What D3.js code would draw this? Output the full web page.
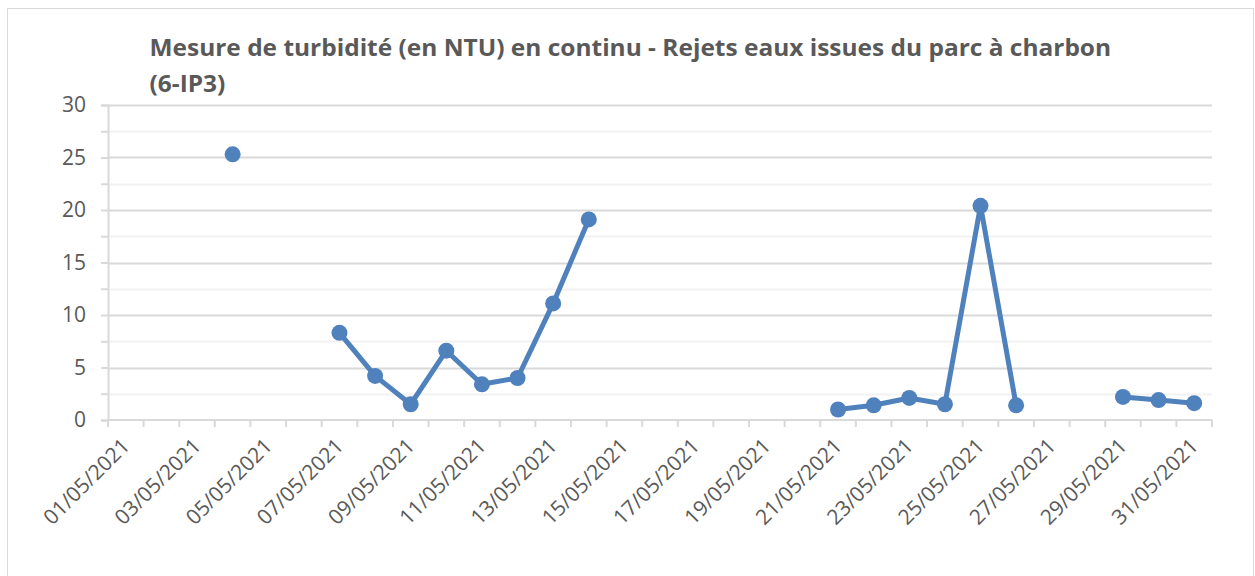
<!DOCTYPE html>
<html>
<head>
<meta charset="utf-8">
<script src="https://cdn.jsdelivr.net/npm/d3@7"></script>
<style>
  body { margin: 0; background: #fff; }
  text { font-family: "Open Sans", "Liberation Sans", sans-serif; fill: #595959; }
</style>
</head>
<body>
<svg id="chart" width="1255" height="576"></svg>
<script>
// dates (one category per day) and measured turbidity, null = no measure
var days = ["01/05/2021", "02/05/2021", "03/05/2021", "04/05/2021", "05/05/2021", "06/05/2021",
    "07/05/2021", "08/05/2021", "09/05/2021", "10/05/2021", "11/05/2021", "12/05/2021",
    "13/05/2021", "14/05/2021", "15/05/2021", "16/05/2021", "17/05/2021", "18/05/2021",
    "19/05/2021", "20/05/2021", "21/05/2021", "22/05/2021", "23/05/2021", "24/05/2021",
    "25/05/2021", "26/05/2021", "27/05/2021", "28/05/2021", "29/05/2021", "30/05/2021",
    "31/05/2021"];
var turbidity = [null, null, null, 25.3, null, null,
    8.3, 4.2, 1.5, 6.6, 3.4, 4.0,
    11.1, 19.1, null, null, null, null,
    null, null, 1.0, 1.4, 2.1, 1.5,
    20.4, 1.4, null, null, 2.2, 1.9,
    1.6];
var yTicks = [0, 5, 10, 15, 20, 25, 30];
var yMinor = [2.5, 7.5, 12.5, 17.5, 22.5, 27.5];
var titleLines = ["Mesure de turbidité (en NTU) en continu - Rejets eaux issues du parc à charbon", "(6-IP3)"];

var svg = d3.select("#chart"),
    margin = { top: 105, right: 43, bottom: 156, left: 108 },
    width = +svg.attr("width") - margin.left - margin.right,
    height = +svg.attr("height") - margin.top - margin.bottom;

var data = days.map(function (d, i) { return { day: d, value: turbidity[i] }; });

// chart frame
svg.append("rect")
    .attr("x", 7.5).attr("y", 8.5)
    .attr("width", 1246).attr("height", 600)
    .attr("fill", "#fff")
    .attr("stroke", "#d9d9d9")
    .attr("stroke-width", 1);

var g = svg.append("g").attr("transform", "translate(" + margin.left + "," + margin.top + ")");

var x = d3.scaleBand().domain(days).range([0, width]).padding(0);
var y = d3.scaleLinear().domain([0, 30]).range([height, 0]);

// minor gridlines
g.selectAll(".minor")
    .data(yMinor)
    .enter().append("line")
    .attr("x1", 0).attr("x2", width)
    .attr("y1", function (d) { return Math.round(y(d)) + 0.5; })
    .attr("y2", function (d) { return Math.round(y(d)) + 0.5; })
    .attr("stroke", "#f2f2f2")
    .attr("stroke-width", 2);

// major gridlines
g.selectAll(".major")
    .data(yTicks.slice(1))
    .enter().append("line")
    .attr("x1", 0).attr("x2", width)
    .attr("y1", function (d) { return Math.round(y(d)) + 0.5; })
    .attr("y2", function (d) { return Math.round(y(d)) + 0.5; })
    .attr("stroke", "#d9d9d9")
    .attr("stroke-width", 2);

// Y axis
var yAxis = g.append("g")
    .call(d3.axisLeft(y).tickValues(yTicks.concat(yMinor)).tickSize(7)
        .tickFormat(function (d) { return yTicks.indexOf(d) >= 0 ? d : ""; }));
yAxis.select(".domain").attr("stroke", "#d9d9d9").attr("stroke-width", 2);
yAxis.selectAll(".tick line").attr("stroke", "#d9d9d9").attr("stroke-width", 2);
yAxis.selectAll(".tick text")
    .attr("x", -22)
    .style("font-size", "21px")
    .style("font-family", "'Open Sans', sans-serif")
    .attr("fill", "#595959");

// X axis: boundary ticks between days
var bounds = days.map(function (d) { return x(d); }).concat([width]);
g.append("line")
    .attr("x1", 0).attr("x2", width)
    .attr("y1", height).attr("y2", height)
    .attr("stroke", "#d9d9d9").attr("stroke-width", 2);
g.selectAll(".xtick")
    .data(bounds)
    .enter().append("line")
    .attr("x1", function (d) { return d; })
    .attr("x2", function (d) { return d; })
    .attr("y1", height).attr("y2", height + 7)
    .attr("stroke", "#d9d9d9").attr("stroke-width", 2);

// X labels every other day
var xAxis = g.append("g")
    .attr("transform", "translate(0," + height + ")")
    .call(d3.axisBottom(x).tickSize(0)
        .tickValues(days.filter(function (d, i) { return i % 2 === 0; })));
xAxis.select(".domain").remove();
xAxis.selectAll(".tick text")
    .attr("y", 0)
    .attr("dy", "0.35em")
    .attr("transform", "translate(0,22) rotate(-45)")
    .attr("text-anchor", "end")
    .style("font-size", "21px")
    .style("font-family", "'Open Sans', sans-serif")
    .attr("fill", "#595959");

// the line, broken where no measure
var line = d3.line()
    .defined(function (d) { return d.value !== null; })
    .x(function (d) { return x(d.day) + x.bandwidth() / 2; })
    .y(function (d) { return y(d.value); });

g.append("path")
    .datum(data)
    .attr("fill", "none")
    .attr("stroke", "#4f81bd")
    .attr("stroke-width", 5)
    .attr("stroke-linejoin", "round")
    .attr("d", line);

g.selectAll(".dot")
    .data(data.filter(function (d) { return d.value !== null; }))
    .enter().append("circle")
    .attr("r", 8)
    .attr("fill", "#4f81bd")
    .attr("cx", function (d) { return x(d.day) + x.bandwidth() / 2; })
    .attr("cy", function (d) { return y(d.value); });

// title, two lines, block centred on the chart
var title = svg.append("text")
    .style("font-weight", "bold")
    .style("font-size", "23px")
    .attr("fill", "#595959");
title.selectAll("tspan")
    .data(titleLines)
    .enter().append("tspan")
    .attr("x", 0)
    .attr("dy", function (d, i) { return i === 0 ? 0 : 36; })
    .text(function (d) { return d; });

// squeeze horizontally to the width the first line takes in the original
var w = title.select("tspan").node().getComputedTextLength();
var sx = 962 / w;
title.attr("transform", "translate(" + (630.5 - 481) + ",56) scale(" + sx + ",1)");
</script>
</body>
</html>
